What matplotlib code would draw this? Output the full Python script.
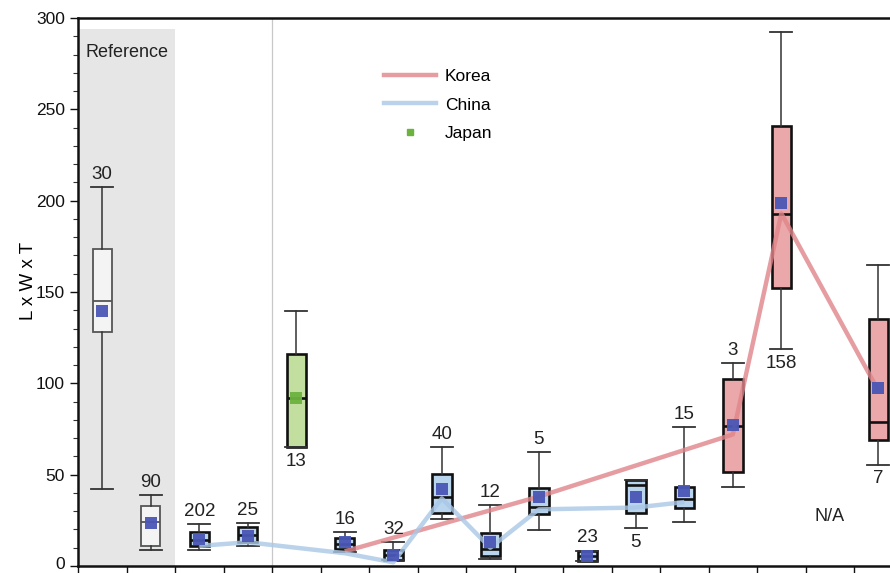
import matplotlib
matplotlib.use("Agg")
import matplotlib.pyplot as plt
import matplotlib.transforms as mtransforms
from matplotlib.lines import Line2D
from matplotlib.ticker import MultipleLocator

plt.rcParams['font.family'] = ['Liberation Sans', 'DejaVu Sans']

# ---- data ----
count_labels = ['30', '90', '202', '25', '13', '16', '32', '40', '12', '5', '23', '5', '15', '3', '158', 'N/A', '7']
label_below  = [False, False, False, False, True, False, False, False, False, False, False, True, False, False, True, False, True]
groups       = ['ref', 'ref', 'china', 'china', 'japan', 'china', 'china', 'china', 'china', 'china', 'china', 'china', 'china', 'korea', 'korea', None, 'korea']
whislo = [42.1, 8.9, 8.9, 11.1, 65.0, 7.5, 3.4, 25.7, 3.8, 19.9, 2.9, 20.6, 24.3, 43.4, 118.8, None, 55.4]
q1     = [127.9, 11.1, 10.8, 13.0, 65.0, 9.3, 3.4, 29.0, 5.3, 28.5, 2.9, 29.0, 31.6, 51.6, 152.2, None, 69.1]
med    = [145.2, 24.0, 14.0, 17.0, 92.0, 12.0, 6.0, 38.0, 9.3, 32.1, 5.5, 44.3, 36.7, 76.8, 192.7, None, 79.0]
q3     = [173.5, 33.0, 18.8, 21.2, 116.0, 15.2, 8.9, 50.4, 18.0, 42.5, 8.4, 47.2, 43.1, 102.4, 240.8, None, 135.2]
whishi = [207.6, 38.9, 23.0, 23.4, 139.4, 18.4, 13.3, 65.0, 33.4, 62.2, 8.4, 47.2, 76.2, 111.0, 292.6, None, 164.7]
means  = [139.4, 23.4, 14.8, 16.5, 92.0, 13.0, 6.0, 42.1, 13.0, 37.6, 5.5, 37.9, 41.2, 77.0, 198.7, None, 97.3]

korea_x = [5, 9, 13, 14, 16]
korea_y = [8, 38, 72, 193, 96]
china_x = [2, 3, 5, 6, 7, 8, 9, 11, 12]
china_y = [11, 13, 7, 2, 37, 10, 31, 32, 35]

na_index = 15
na_value = 27

# ---- styling ----
fills = {'ref': '#f4f4f4', 'china': '#b9d5ee', 'japan': '#c3df9f', 'korea': '#eba8ab'}
edges = {'ref': '#555555', 'china': '#111111', 'japan': '#111111', 'korea': '#111111'}
mean_color = {'ref': '#4a57b5', 'china': '#4a57b5', 'japan': '#6cb23f', 'korea': '#4a57b5'}

XLIM = (-0.5, 16.24)

fig = plt.figure(figsize=(8.90, 5.73), dpi=100)
ax = fig.add_axes([78/890, 1 - 566/573, (890 - 78)/890, (566 - 18)/573])

ax.set_xlim(*XLIM)
ax.set_ylim(0, 300)

# reference shading
ax.fill_between([-0.5, 1.5], 0, 294, color='#e6e6e6', zorder=0, linewidth=0)
ax.text(0.5, 281, 'Reference', ha='center', va='center', fontsize=13, color='#222222', zorder=1)
ax.axvline(3.5, color='#c8c8c8', linewidth=0.9, zorder=0.5)

for i, g in enumerate(groups):
    if g is None:
        continue
    st = dict(whislo=whislo[i], q1=q1[i], med=med[i], q3=q3[i], whishi=whishi[i], fliers=[])
    lw = 1.3 if g == 'ref' else 1.9
    ax.bxp([st], positions=[i], widths=0.4, capwidths=0.45, patch_artist=True,
           showfliers=False,
           boxprops=dict(facecolor=fills[g], edgecolor=edges[g], linewidth=lw),
           medianprops=dict(color=edges[g], linewidth=lw),
           whiskerprops=dict(color='#333333', linewidth=1.1),
           capprops=dict(color='#333333', linewidth=1.3),
           manage_ticks=False, zorder=2)

# country lines (drawn over the boxes)
ax.plot(korea_x, korea_y, color='#e0858a', linewidth=3.2, alpha=0.8, zorder=3, solid_capstyle='butt')
ax.plot(china_x, china_y, color='#a9c8e6', linewidth=3.2, alpha=0.8, zorder=3, solid_capstyle='butt')

# means
for i, g in enumerate(groups):
    if g is None:
        continue
    ax.plot(i, means[i], marker='s', markersize=8.8, color=mean_color[g],
            markeredgewidth=0, alpha=0.95, zorder=4, linestyle='none')

# count labels
for i, lab in enumerate(count_labels):
    if i == na_index:
        ax.text(i, na_value, lab, ha='center', va='center', fontsize=13, color='#222222')
        continue
    if label_below[i]:
        ax.annotate(lab, (i, whislo[i]), xytext=(0, -4), textcoords='offset points',
                    ha='center', va='top', fontsize=13.5, color='#222222')
    else:
        ax.annotate(lab, (i, whishi[i]), xytext=(0, 3), textcoords='offset points',
                    ha='center', va='bottom', fontsize=13.5, color='#222222')

# axes styling
for s in ['left', 'top', 'bottom']:
    ax.spines[s].set_linewidth(1.8)
    ax.spines[s].set_color('#111111')
ax.spines['right'].set_visible(False)

ax.yaxis.set_major_locator(MultipleLocator(50))
ax.yaxis.set_minor_locator(MultipleLocator(10))
ax.tick_params(axis='y', which='major', length=6, width=1.0, labelsize=12.5, colors='#111111')
ax.tick_params(axis='y', which='minor', length=3.5, width=0.8, colors='#333333')
ax.set_xticks([k + 0.5 for k in range(-1, 16)])
ax.set_xticklabels([])
ax.tick_params(axis='x', which='major', length=6, width=1.0, colors='#111111')
ax.set_ylabel('L x W x T', fontsize=13.5)
ax.yaxis.set_label_coords(-0.05, 0.52)

# legend
handles = [Line2D([], [], color='#e0858a', linewidth=3.2, alpha=0.8, label='Korea'),
           Line2D([], [], color='#a9c8e6', linewidth=3.2, alpha=0.8, label='China'),
           Line2D([], [], color='#6cb23f', marker='s', markersize=5, linestyle='none', label='Japan')]
ax.legend(handles=handles, loc='upper left', bbox_to_anchor=(0.358, 0.935), frameon=False,
          fontsize=12.5, handlelength=3.0, handletextpad=0.5, labelspacing=0.75)

ax.set_xlim(*XLIM)

# nudge the "0" tick label up a little so it is not clipped by the figure edge
fig.canvas.draw()
for t in ax.yaxis.get_major_ticks():
    if abs(t.get_loc()) < 1e-9:
        lab = t.label1
        lab.set_transform(lab.get_transform() +
                          mtransforms.ScaledTranslation(0, 2.5 / 72, fig.dpi_scale_trans))

fig.savefig('out.png', dpi=100)
